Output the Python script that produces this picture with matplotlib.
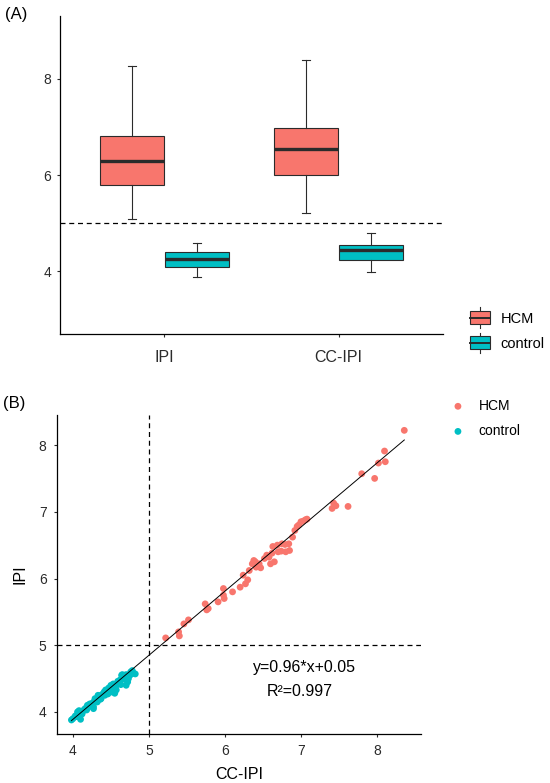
import matplotlib
matplotlib.use('Agg')
import matplotlib.pyplot as plt
from matplotlib.patches import Rectangle
from matplotlib.lines import Line2D
from matplotlib.legend_handler import HandlerBase

plt.rcParams['font.family'] = ['Liberation Sans', 'DejaVu Sans']

# ---- panel A : box summaries ----
measures = ['IPI', 'CC-IPI']
groups = ['HCM', 'control']
colors = {'HCM': '#F8766D', 'control': '#00BFC4'}
# [whisker low, q1, median, q3, whisker high]
box_hcm = [[5.08, 5.80, 6.30, 6.80, 8.26],
           [5.21, 5.99, 6.53, 6.97, 8.38]]
box_control = [[3.89, 4.09, 4.26, 4.40, 4.59],
               [3.99, 4.24, 4.45, 4.55, 4.79]]
cutoff = 5

# ---- panel B : scatter points ----
hcm_x = [5.22, 5.39, 5.40, 5.46, 5.52, 5.74, 5.76, 5.78, 5.91, 5.98, 5.98, 5.99,
         6.10, 6.20, 6.27, 6.30, 6.24, 6.32, 6.36, 6.38, 6.40, 6.41, 6.45, 6.47,
         6.52, 6.55, 6.58, 6.60, 6.62, 6.63, 6.65, 6.69, 6.70, 6.75, 6.74, 6.79,
         6.80, 6.85, 6.84, 6.89, 6.92, 6.95, 6.97, 7.00, 7.03, 7.06, 7.08, 7.41,
         7.43, 7.46, 7.62, 7.80, 7.97, 8.02, 8.10, 8.11, 8.36]
hcm_y = [5.11, 5.20, 5.14, 5.32, 5.38, 5.62, 5.53, 5.55, 5.65, 5.85, 5.75, 5.70,
         5.80, 5.87, 5.92, 5.98, 6.05, 6.12, 6.22, 6.27, 6.25, 6.17, 6.22, 6.16,
         6.30, 6.35, 6.32, 6.22, 6.38, 6.48, 6.25, 6.50, 6.40, 6.52, 6.41, 6.51,
         6.40, 6.42, 6.52, 6.62, 6.72, 6.78, 6.80, 6.85, 6.86, 6.88, 6.89, 7.05,
         7.13, 7.09, 7.08, 7.57, 7.50, 7.73, 7.91, 7.75, 8.22]
ctrl_x = [3.98, 4.00, 4.03, 4.06, 4.08, 4.10, 4.12, 4.15, 4.17, 4.19, 4.21, 4.23,
          4.25, 4.27, 4.28, 4.30, 4.32, 4.33, 4.35, 4.37, 4.38, 4.40, 4.42, 4.44,
          4.45, 4.47, 4.48, 4.50, 4.52, 4.53, 4.55, 4.57, 4.58, 4.60, 4.62, 4.65,
          4.67, 4.70, 4.70, 4.72, 4.75, 4.78, 4.80, 4.27, 4.33, 4.43, 4.55,
          4.05, 4.13, 4.18, 4.22, 4.29, 4.36, 4.41, 4.46, 4.49, 4.51, 4.56, 4.59,
          4.63, 4.68, 4.73, 4.76, 4.82, 4.64]
ctrl_y = [3.88, 3.90, 3.94, 4.00, 4.02, 3.89, 3.97, 4.04, 4.06, 4.10, 4.08, 4.11,
          4.13, 4.08, 4.16, 4.18, 4.15, 4.22, 4.24, 4.20, 4.26, 4.27, 4.25, 4.31,
          4.29, 4.36, 4.32, 4.40, 4.34, 4.42, 4.40, 4.33, 4.42, 4.43, 4.48, 4.56,
          4.52, 4.56, 4.40, 4.45, 4.55, 4.62, 4.58, 4.05, 4.25, 4.33, 4.28,
          3.93, 4.01, 4.03, 4.12, 4.20, 4.19, 4.30, 4.27, 4.37, 4.30, 4.36, 4.46,
          4.41, 4.49, 4.50, 4.60, 4.57, 4.55]
slope, intercept, r2 = 0.96, 0.05, 0.997

grey = '#2b2b2b'


def style_axes(ax):
    for s in ['top', 'right']:
        ax.spines[s].set_visible(False)
    for s in ['left', 'bottom']:
        ax.spines[s].set_color('black')
        ax.spines[s].set_linewidth(0.9)
    ax.tick_params(length=2.5, width=0.8, color=grey, labelcolor=grey)


class BoxKey(HandlerBase):
    def create_artists(self, legend, orig_handle, xd, yd, w, h, fontsize, trans):
        fc = orig_handle.get_facecolor()
        x0, y0 = -xd, -yd
        rect = Rectangle((x0, y0), w, h, facecolor=fc, edgecolor=grey,
                         linewidth=0.8, transform=trans)
        mid = Line2D([x0, x0 + w], [y0 + h / 2] * 2, color=grey, lw=1.4, transform=trans)
        up = Line2D([x0 + w / 2] * 2, [y0 + h, y0 + h * 1.3], color=grey, lw=0.8, transform=trans)
        dn = Line2D([x0 + w / 2] * 2, [y0, y0 - h * 0.3], color=grey, lw=0.8, transform=trans)
        return [up, dn, rect, mid]


fig = plt.figure(figsize=(5.5, 7.83), dpi=100)

# ---------------- panel A ----------------
axA = fig.add_axes([60 / 550, 1 - 334 / 783, 383 / 550, 318 / 783])
width = 0.37
offset = 0.1875
for i, m in enumerate(measures):
    for g, stats, sign in [('HCM', box_hcm[i], -1), ('control', box_control[i], 1)]:
        lo, q1, med, q3, hi = stats
        axA.bxp([dict(whislo=lo, q1=q1, med=med, q3=q3, whishi=hi, fliers=[])],
                positions=[i + 1 + sign * offset], widths=width, capwidths=0.045,
                patch_artist=True, showfliers=False, manage_ticks=False,
                boxprops=dict(facecolor=colors[g], edgecolor=grey, linewidth=0.8),
                medianprops=dict(color=grey, linewidth=2.4),
                whiskerprops=dict(color=grey, linewidth=0.8),
                capprops=dict(color=grey, linewidth=0.8))
axA.axhline(cutoff, color='black', lw=0.9, ls=(0, (4, 3)))
axA.set_xlim(0.4, 2.6)
axA.set_ylim(2.7, 9.3)
axA.set_xticks([1, 2])
axA.set_xticklabels(measures)
axA.set_yticks([4, 6, 8])
style_axes(axA)
axA.tick_params(axis='x', labelsize=11.5, pad=9)
axA.tick_params(axis='y', labelsize=10, pad=4)

handlesA = [Rectangle((0, 0), 1, 1, facecolor=colors[g]) for g in groups]
fig.legend(handlesA, groups, handler_map={Rectangle: BoxKey()},
           loc='center left', bbox_to_anchor=(470 / 550, 1 - 331 / 783),
           frameon=False, fontsize=10.5, handlelength=1.35, handleheight=0.95,
           labelspacing=0.75, handletextpad=0.75, borderpad=0, borderaxespad=0)

# ---------------- panel B ----------------
axB = fig.add_axes([57 / 550, 1 - 734 / 783, 364 / 550, 319 / 783])
axB.scatter(hcm_x, hcm_y, s=24, color=colors['HCM'], edgecolors='none', label='HCM', zorder=2)
axB.scatter(ctrl_x, ctrl_y, s=24, color=colors['control'], edgecolors='none', label='control', zorder=2)
all_x = hcm_x + ctrl_x
xs = [min(all_x), max(all_x)]
axB.plot(xs, [slope * v + intercept for v in xs], color='black', lw=0.7, zorder=3)
axB.axhline(cutoff, color='black', lw=0.9, ls=(0, (4, 3)), zorder=1)
axB.axvline(cutoff, color='black', lw=0.9, ls=(0, (4, 3)), zorder=1)
axB.text(7.05, 4.67, 'y=%.2f*x+%.2f' % (slope, intercept), ha='center', va='center',
         fontsize=11.5, color='black')
axB.text(6.99, 4.30, 'R²=%.3f' % r2, ha='center', va='center', fontsize=11.5, color='black')
axB.set_xlim(3.79, 8.58)
axB.set_ylim(3.67, 8.45)
axB.set_xticks([4, 5, 6, 7, 8])
axB.set_yticks([4, 5, 6, 7, 8])
style_axes(axB)
axB.tick_params(labelsize=10, pad=5)
axB.set_xlabel('CC-IPI', fontsize=11.5, labelpad=6)
axB.set_ylabel('IPI', fontsize=11.5, labelpad=8)
fig.legend(*axB.get_legend_handles_labels(), loc='center left',
           bbox_to_anchor=(451 / 550, 1 - 418.5 / 783), frameon=False, fontsize=10,
           handlelength=1.0, handletextpad=1.0, labelspacing=0.8, borderpad=0,
           borderaxespad=0, markerscale=1.0)

fig.text(5 / 550, 1 - 15 / 783, '(A)', fontsize=12, va='center', ha='left')
fig.text(3 / 550, 1 - 403 / 783, '(B)', fontsize=12, va='center', ha='left')

fig.savefig('out.png', dpi=100)
